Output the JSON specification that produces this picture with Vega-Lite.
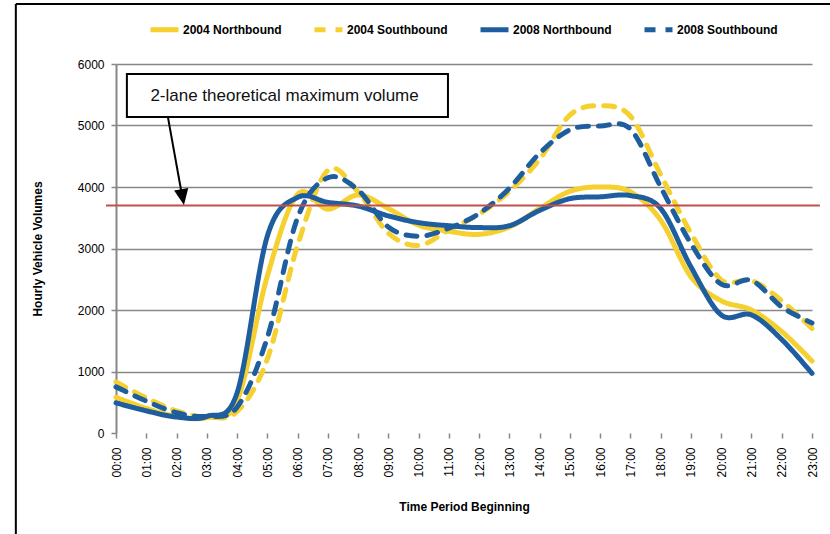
{
  "$schema": "https://vega.github.io/schema/vega-lite/v6.json",
  "width": 696,
  "height": 369,
  "autosize": {"type": "none"},
  "padding": {"left": 116, "top": 64, "right": 18, "bottom": 101},
  "background": "white",
  "config": {
    "font": "Liberation Sans",
    "view": {"stroke": null},
    "legend": {
      "orient": "none",
      "legendX": 32,
      "legendY": -51,
      "direction": "horizontal",
      "columns": 4,
      "symbolType": "stroke",
      "symbolSize": 784,
      "symbolStrokeWidth": 5,
      "labelFontSize": 12,
      "labelFontWeight": "bold",
      "labelColor": "black",
      "labelOffset": 2,
      "columnPadding": 22,
      "labelLimit": 200
    }
  },
  "datasets": {
    "one": [{}],
    "traffic": [
      {"hour": 0, "series": "2004 Northbound", "v": 580},
      {"hour": 1, "series": "2004 Northbound", "v": 400},
      {"hour": 2, "series": "2004 Northbound", "v": 270},
      {"hour": 3, "series": "2004 Northbound", "v": 250},
      {"hour": 4, "series": "2004 Northbound", "v": 520},
      {"hour": 5, "series": "2004 Northbound", "v": 2550},
      {"hour": 6, "series": "2004 Northbound", "v": 3880},
      {"hour": 7, "series": "2004 Northbound", "v": 3640},
      {"hour": 8, "series": "2004 Northbound", "v": 3870},
      {"hour": 9, "series": "2004 Northbound", "v": 3650},
      {"hour": 10, "series": "2004 Northbound", "v": 3380},
      {"hour": 11, "series": "2004 Northbound", "v": 3280},
      {"hour": 12, "series": "2004 Northbound", "v": 3230},
      {"hour": 13, "series": "2004 Northbound", "v": 3350},
      {"hour": 14, "series": "2004 Northbound", "v": 3650},
      {"hour": 15, "series": "2004 Northbound", "v": 3930},
      {"hour": 16, "series": "2004 Northbound", "v": 4000},
      {"hour": 17, "series": "2004 Northbound", "v": 3920},
      {"hour": 18, "series": "2004 Northbound", "v": 3460},
      {"hour": 19, "series": "2004 Northbound", "v": 2540},
      {"hour": 20, "series": "2004 Northbound", "v": 2150},
      {"hour": 21, "series": "2004 Northbound", "v": 2000},
      {"hour": 22, "series": "2004 Northbound", "v": 1650},
      {"hour": 23, "series": "2004 Northbound", "v": 1170},
      {"hour": 0, "series": "2004 Southbound", "v": 830},
      {"hour": 1, "series": "2004 Southbound", "v": 570},
      {"hour": 2, "series": "2004 Southbound", "v": 360},
      {"hour": 3, "series": "2004 Southbound", "v": 260},
      {"hour": 4, "series": "2004 Southbound", "v": 350},
      {"hour": 5, "series": "2004 Southbound", "v": 1200},
      {"hour": 6, "series": "2004 Southbound", "v": 3050},
      {"hour": 7, "series": "2004 Southbound", "v": 4270},
      {"hour": 8, "series": "2004 Southbound", "v": 3920},
      {"hour": 9, "series": "2004 Southbound", "v": 3250},
      {"hour": 10, "series": "2004 Southbound", "v": 3050},
      {"hour": 11, "series": "2004 Southbound", "v": 3300},
      {"hour": 12, "series": "2004 Southbound", "v": 3560},
      {"hour": 13, "series": "2004 Southbound", "v": 3930},
      {"hour": 14, "series": "2004 Southbound", "v": 4450},
      {"hour": 15, "series": "2004 Southbound", "v": 5170},
      {"hour": 16, "series": "2004 Southbound", "v": 5320},
      {"hour": 17, "series": "2004 Southbound", "v": 5150},
      {"hour": 18, "series": "2004 Southbound", "v": 4200},
      {"hour": 19, "series": "2004 Southbound", "v": 3250},
      {"hour": 20, "series": "2004 Southbound", "v": 2490},
      {"hour": 21, "series": "2004 Southbound", "v": 2480},
      {"hour": 22, "series": "2004 Southbound", "v": 2150},
      {"hour": 23, "series": "2004 Southbound", "v": 1700},
      {"hour": 0, "series": "2008 Northbound", "v": 490},
      {"hour": 1, "series": "2008 Northbound", "v": 360},
      {"hour": 2, "series": "2008 Northbound", "v": 260},
      {"hour": 3, "series": "2008 Northbound", "v": 270},
      {"hour": 4, "series": "2008 Northbound", "v": 650},
      {"hour": 5, "series": "2008 Northbound", "v": 3200},
      {"hour": 6, "series": "2008 Northbound", "v": 3830},
      {"hour": 7, "series": "2008 Northbound", "v": 3750},
      {"hour": 8, "series": "2008 Northbound", "v": 3690},
      {"hour": 9, "series": "2008 Northbound", "v": 3530},
      {"hour": 10, "series": "2008 Northbound", "v": 3420},
      {"hour": 11, "series": "2008 Northbound", "v": 3370},
      {"hour": 12, "series": "2008 Northbound", "v": 3340},
      {"hour": 13, "series": "2008 Northbound", "v": 3370},
      {"hour": 14, "series": "2008 Northbound", "v": 3620},
      {"hour": 15, "series": "2008 Northbound", "v": 3810},
      {"hour": 16, "series": "2008 Northbound", "v": 3840},
      {"hour": 17, "series": "2008 Northbound", "v": 3860},
      {"hour": 18, "series": "2008 Northbound", "v": 3650},
      {"hour": 19, "series": "2008 Northbound", "v": 2700},
      {"hour": 20, "series": "2008 Northbound", "v": 1920},
      {"hour": 21, "series": "2008 Northbound", "v": 1920},
      {"hour": 22, "series": "2008 Northbound", "v": 1520},
      {"hour": 23, "series": "2008 Northbound", "v": 970},
      {"hour": 0, "series": "2008 Southbound", "v": 750},
      {"hour": 1, "series": "2008 Southbound", "v": 520},
      {"hour": 2, "series": "2008 Southbound", "v": 330},
      {"hour": 3, "series": "2008 Southbound", "v": 270},
      {"hour": 4, "series": "2008 Southbound", "v": 420},
      {"hour": 5, "series": "2008 Southbound", "v": 1550},
      {"hour": 6, "series": "2008 Southbound", "v": 3500},
      {"hour": 7, "series": "2008 Southbound", "v": 4150},
      {"hour": 8, "series": "2008 Southbound", "v": 3950},
      {"hour": 9, "series": "2008 Southbound", "v": 3350},
      {"hour": 10, "series": "2008 Southbound", "v": 3200},
      {"hour": 11, "series": "2008 Southbound", "v": 3330},
      {"hour": 12, "series": "2008 Southbound", "v": 3570},
      {"hour": 13, "series": "2008 Southbound", "v": 3980},
      {"hour": 14, "series": "2008 Southbound", "v": 4550},
      {"hour": 15, "series": "2008 Southbound", "v": 4930},
      {"hour": 16, "series": "2008 Southbound", "v": 4990},
      {"hour": 17, "series": "2008 Southbound", "v": 4940},
      {"hour": 18, "series": "2008 Southbound", "v": 4000},
      {"hour": 19, "series": "2008 Southbound", "v": 3080},
      {"hour": 20, "series": "2008 Southbound", "v": 2420},
      {"hour": 21, "series": "2008 Southbound", "v": 2480},
      {"hour": 22, "series": "2008 Southbound", "v": 2050},
      {"hour": 23, "series": "2008 Southbound", "v": 1790}
    ]
  },
  "encoding": {
    "x": {
      "type": "quantitative",
      "scale": {"domain": [0, 23], "nice": false, "zero": false},
      "axis": {
        "values": [0,1,2,3,4,5,6,7,8,9,10,11,12,13,14,15,16,17,18,19,20,21,22,23],
        "labelExpr": "(datum.value < 10 ? '0' : '') + datum.value + ':00'",
        "labelAngle": -90,
        "labelAlign": "right",
        "labelBaseline": "middle",
        "labelFontSize": 12,
        "labelColor": "black",
        "labelPadding": 9,
        "labelFlush": false,
        "labelOverlap": false,
        "domain": false,
        "grid": false,
        "ticks": true,
        "tickColor": "#878787",
        "tickSize": 5,
        "tickWidth": 1.5,
        "title": "Time Period Beginning",
        "titleFontSize": 12,
        "titleFontWeight": "bold",
        "titleColor": "black",
        "titlePadding": 24
      }
    },
    "y": {
      "type": "quantitative",
      "scale": {"domain": [0, 6000], "nice": false},
      "axis": {
        "values": [0, 1000, 2000, 3000, 4000, 5000, 6000],
        "format": "d",
        "labelFontSize": 12,
        "labelColor": "black",
        "labelPadding": 7,
        "domainColor": "#878787",
        "domainWidth": 2,
        "tickColor": "#878787",
        "tickSize": 5,
        "tickWidth": 1.5,
        "grid": true,
        "gridColor": {"condition": {"test": "datum.value === 0", "value": "transparent"}, "value": "#878787"},
        "gridWidth": 1.3,
        "title": "Hourly Vehicle Volumes",
        "titleFontSize": 12,
        "titleFontWeight": "bold",
        "titleColor": "black",
        "titlePadding": 33
      }
    }
  },
  "layer": [
    {
      "data": {"name": "traffic"},
      "mark": {"type": "line", "interpolate": "cardinal", "strokeWidth": 5, "strokeCap": "round"},
      "encoding": {
        "x": {"field": "hour", "type": "quantitative"},
        "y": {"field": "v", "type": "quantitative"},
        "color": {
          "field": "series", "type": "nominal",
          "scale": {
            "domain": ["2004 Northbound", "2004 Southbound", "2008 Northbound", "2008 Southbound"],
            "range": ["#F5D02E", "#F5D02E", "#1F5E9E", "#1F5E9E"]
          },
          "legend": {"title": null}
        },
        "strokeDash": {
          "field": "series", "type": "nominal",
          "scale": {
            "domain": ["2004 Northbound", "2004 Southbound", "2008 Northbound", "2008 Southbound"],
            "range": [[1, 0], [11, 10], [1, 0], [11, 10]]
          },
          "legend": {"title": null}
        }
      }
    },
    {
      "data": {"name": "one"},
      "mark": {"type": "rule", "color": "#C0504D", "strokeWidth": 2},
      "encoding": {
        "x": {"datum": -0.33, "type": "quantitative"},
        "x2": {"datum": 23.26},
        "y": {"datum": 3700, "type": "quantitative"}
      }
    },
    {
      "data": {"name": "one"},
      "mark": {"type": "rect", "fill": "white", "stroke": "black", "strokeWidth": 2},
      "encoding": {
        "x": {"datum": 0.36, "type": "quantitative"},
        "x2": {"datum": 10.97},
        "y": {"datum": 5837, "type": "quantitative"},
        "y2": {"datum": 5138}
      }
    },
    {
      "data": {"name": "one"},
      "mark": {"type": "text", "text": "2-lane theoretical maximum volume", "font": "Liberation Sans", "fontSize": 17, "align": "center", "baseline": "middle", "color": "#111111"},
      "encoding": {
        "x": {"datum": 5.57, "type": "quantitative"},
        "y": {"datum": 5480, "type": "quantitative"}
      }
    },
    {
      "data": {"name": "one"},
      "mark": {"type": "rule", "color": "black", "strokeWidth": 2},
      "encoding": {
        "x": {"datum": 1.72, "type": "quantitative"},
        "x2": {"datum": 2.15},
        "y": {"datum": 5125, "type": "quantitative"},
        "y2": {"datum": 3951}
      }
    },
    {
      "data": {"name": "one"},
      "mark": {"type": "point", "shape": "M0,1L-0.9,-1L0.9,-1Z", "size": 256, "filled": true, "color": "black", "opacity": 1, "angle": -10},
      "encoding": {
        "x": {"datum": 2.2, "type": "quantitative"},
        "y": {"datum": 3836, "type": "quantitative"}
      }
    },
    {
      "data": {"name": "one"},
      "mark": {"type": "rule", "color": "black", "strokeWidth": 2},
      "encoding": {
        "x": {"datum": -3.31, "type": "quantitative"},
        "y": {"datum": 6976, "type": "quantitative"},
        "y2": {"datum": -2000}
      }
    },
    {
      "data": {"name": "one"},
      "mark": {"type": "rule", "color": "black", "strokeWidth": 2},
      "encoding": {
        "x": {"datum": -3.31, "type": "quantitative"},
        "x2": {"datum": 24},
        "y": {"datum": 6976, "type": "quantitative"}
      }
    }
  ]
}
